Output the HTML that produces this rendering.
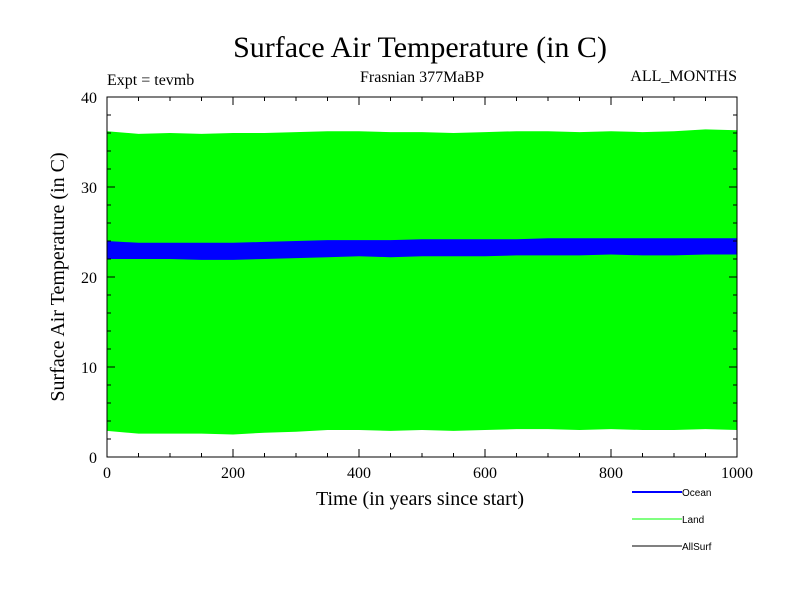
<!DOCTYPE html>
<html><head><meta charset="utf-8"><style>
body{margin:0;background:#fff;}
svg text{font-family:"Liberation Serif",serif;}
svg text.sans{font-family:"Liberation Sans",sans-serif;}
</style></head><body>
<svg id="c" width="800" height="600" xmlns="http://www.w3.org/2000/svg">
<text x="420" y="57" font-size="30" text-anchor="middle">Surface Air Temperature (in C)</text>
<text x="107" y="85" font-size="16">Expt = tevmb</text>
<text x="422" y="82" font-size="16" text-anchor="middle">Frasnian 377MaBP</text>
<text x="737" y="81" font-size="16" text-anchor="end">ALL_MONTHS</text>
<text x="420" y="505" font-size="20" text-anchor="middle">Time (in years since start)</text>
<text transform="translate(64,277) rotate(-90)" font-size="20" text-anchor="middle">Surface Air Temperature (in C)</text>
<g id="marks"></g>
<g id="axes"></g>
<g>
<line x1="632" y1="492" x2="682" y2="492" stroke="#0000ff" stroke-width="2"/>
<text class="sans" x="682" y="496" font-size="10" style="font-family:'Liberation Sans',sans-serif">Ocean</text>
<line x1="632" y1="519" x2="682" y2="519" stroke="#00ff00" stroke-width="1"/>
<text class="sans" x="682" y="523" font-size="10" style="font-family:'Liberation Sans',sans-serif">Land</text>
<line x1="632" y1="546" x2="682" y2="546" stroke="#000" stroke-width="1"/>
<text class="sans" x="682" y="550" font-size="10" style="font-family:'Liberation Sans',sans-serif">AllSurf</text>
</g>
</svg>
<script>
const years=[0,50,100,150,200,250,300,350,400,450,500,550,600,650,700,750,800,850,900,950,1000];
const landMax=[36.2,35.9,36.0,35.9,36.0,36.0,36.1,36.2,36.2,36.1,36.1,36.0,36.1,36.2,36.2,36.1,36.2,36.1,36.2,36.4,36.3];
const landMin=[2.9,2.6,2.6,2.6,2.5,2.7,2.8,3.0,3.0,2.9,3.0,2.9,3.0,3.1,3.1,3.0,3.1,3.0,3.0,3.1,3.0];
const oceanMax=[24.0,23.8,23.8,23.8,23.8,23.9,24.0,24.1,24.1,24.1,24.2,24.2,24.2,24.2,24.3,24.3,24.3,24.3,24.3,24.3,24.3];
const oceanMin=[22.0,22.0,22.0,21.9,21.9,22.0,22.1,22.2,22.3,22.2,22.3,22.3,22.3,22.4,22.4,22.4,22.5,22.4,22.4,22.5,22.5];
const xTicks=[0,200,400,600,800,1000];
const yTicks=[0,10,20,30,40];
const X0=107,X1=737,Y0=457,Y1=97;
const xs=v=>X0+(v/1000)*(X1-X0);
const ys=v=>Y0-(v/40)*(Y0-Y1);
const NS="http://www.w3.org/2000/svg";
const marks=document.getElementById('marks'),axes=document.getElementById('axes');
function band(hi,lo,color,name){
  let pts=years.map((y,i)=>xs(y)+','+ys(hi[i]));
  for(let i=years.length-1;i>=0;i--)pts.push(xs(years[i])+','+ys(lo[i]));
  const p=document.createElementNS(NS,'polygon');
  p.setAttribute('points',pts.join(' '));p.setAttribute('fill',color);
  
  
  marks.appendChild(p);
}
band(landMax,landMin,'#00ff00','land-series');
band(oceanMax,oceanMin,'#0000ff','ocean-series');
const r=document.createElementNS(NS,'rect');
r.setAttribute('x',X0);r.setAttribute('y',Y1);r.setAttribute('width',X1-X0);r.setAttribute('height',Y0-Y1);
r.setAttribute('fill','none');r.setAttribute('stroke','#000');


axes.appendChild(r);
function ln(x1,y1,x2,y2){const l=document.createElementNS(NS,'line');l.setAttribute('x1',x1);l.setAttribute('y1',y1);l.setAttribute('x2',x2);l.setAttribute('y2',y2);l.setAttribute('stroke','#000');axes.appendChild(l);}
for(let v=0;v<=1000;v+=50){const big=v%200==0;const x=xs(v);ln(x,Y0,x,Y0-(big?8:4));ln(x,Y1,x,Y1+(big?8:4));}
for(let v=0;v<=40;v+=2){const big=v%10==0;const y=ys(v);ln(X0,y,X0+(big?8:4),y);ln(X1,y,X1-(big?8:4),y);}
xTicks.forEach(v=>{const t=document.createElementNS(NS,'text');t.setAttribute('x',xs(v));t.setAttribute('y',Y0+21);t.setAttribute('font-size','16');t.setAttribute('text-anchor','middle');t.textContent=v;


axes.appendChild(t);});
yTicks.forEach(v=>{const t=document.createElementNS(NS,'text');t.setAttribute('x',X0-10);t.setAttribute('y',ys(v)+6);t.setAttribute('font-size','16');t.setAttribute('text-anchor','end');t.textContent=v;


axes.appendChild(t);});
</script>
</body></html>
